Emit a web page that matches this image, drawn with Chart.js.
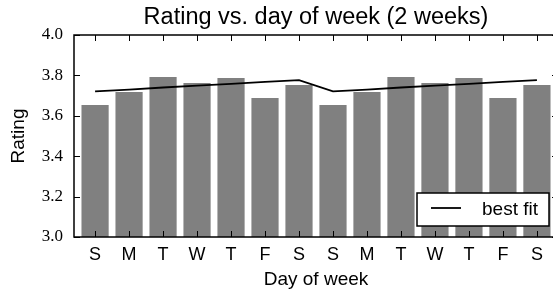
<!DOCTYPE html>
<html>
<head>
<meta charset="utf-8">
<script src="https://cdn.jsdelivr.net/npm/chart.js@4.4.1/dist/chart.umd.min.js"></script>
<style>
  html, body { margin: 0; padding: 0; background: #fff; overflow: hidden; }
  #wrap { width: 560px; height: 293px; }
</style>
</head>
<body>
<div id="wrap"><canvas id="myChart" width="560" height="293"></canvas></div>
<script>
// two weeks, one bar per day
const days = ['S', 'M', 'T', 'W', 'T', 'F', 'S', 'S', 'M', 'T', 'W', 'T', 'F', 'S'];
const dayIdx = [0, 1, 2, 3, 4, 5, 6, 7, 8, 9, 10, 11, 12, 13];
const ratings = [3.653, 3.718, 3.792, 3.762, 3.787, 3.688, 3.752,
                 3.653, 3.718, 3.792, 3.762, 3.787, 3.688, 3.752];
const bestFit = [3.721, 3.730, 3.740, 3.749, 3.758, 3.768, 3.777,
                 3.721, 3.730, 3.740, 3.749, 3.758, 3.768, 3.777];
const yTicks = [3.0, 3.2, 3.4, 3.6, 3.8, 4.0];

const sans = "'Liberation Sans', Arial, sans-serif";
const serif = "'Liberation Serif', 'Times New Roman', serif";

Chart.defaults.font.family = sans;
Chart.defaults.color = '#000';

// box around the plot + inward ticks on all four sides
const frame = {
  id: 'frame',
  afterDatasetsDraw(chart) {
    const ctx = chart.ctx;
    const a = chart.chartArea;
    const sx = chart.scales.x;
    const sy = chart.scales.y;
    const len = 6;
    ctx.save();
    ctx.strokeStyle = '#000';
    ctx.lineWidth = 1;
    ctx.beginPath();
    sx.ticks.forEach(t => {
      const px = Math.round(sx.getPixelForValue(t.value)) + 0.5;
      ctx.moveTo(px, a.bottom); ctx.lineTo(px, a.bottom - len);
      ctx.moveTo(px, a.top); ctx.lineTo(px, a.top + len);
    });
    sy.ticks.forEach(t => {
      const py = Math.round(sy.getPixelForValue(t.value)) + 0.5;
      ctx.moveTo(a.left, py); ctx.lineTo(a.left + len, py);
      ctx.moveTo(a.right, py); ctx.lineTo(a.right - len, py);
    });
    ctx.stroke();
    ctx.lineWidth = 1.5;
    ctx.strokeRect(a.left, a.top, a.right - a.left, a.bottom - a.top);
    ctx.restore();
  }
};

// legend box in the lower right corner, like matplotlib's
const cornerLegend = {
  id: 'cornerLegend',
  afterDraw(chart) {
    const ctx = chart.ctx;
    const a = chart.chartArea;
    const ds = chart.data.datasets.find(d => d.type === 'line');
    const right = a.right - 9, bottom = a.bottom - 11;
    const w = 132, h = 33;
    const left = right - w, top = bottom - h;
    ctx.save();
    ctx.fillStyle = '#fff';
    ctx.fillRect(left, top, w, h);
    ctx.strokeStyle = '#000';
    ctx.lineWidth = 1.5;
    ctx.strokeRect(left, top, w, h);
    ctx.lineWidth = ds.borderWidth;
    ctx.beginPath();
    ctx.moveTo(left + 14, top + 15);
    ctx.lineTo(left + 44, top + 15);
    ctx.stroke();
    ctx.fillStyle = '#000';
    ctx.font = "19px " + sans;
    ctx.textBaseline = 'alphabetic';
    ctx.fillText(ds.label, left + 65, top + 22);
    ctx.restore();
  }
};

const myChart = new Chart(document.getElementById('myChart').getContext('2d'), {
  type: 'bar',
  data: {
    datasets: [
      {
        type: 'line',
        label: 'best fit',
        data: dayIdx.map((d, i) => ({ x: d, y: bestFit[i] })),
        borderColor: '#000',
        borderWidth: 1.8,
        pointRadius: 0,
        tension: 0,
        fill: false,
        order: 0
      },
      {
        type: 'bar',
        label: 'rating',
        data: dayIdx.map((d, i) => ({ x: d, y: ratings[i] })),
        backgroundColor: '#808080',
        borderWidth: 0,
        barPercentage: 0.8,
        categoryPercentage: 1.0,
        order: 1
      }
    ]
  },
  options: {
    responsive: false,
    animation: false,
    devicePixelRatio: 1,
    layout: { padding: { left: 0, right: 2, top: 0, bottom: 0 } },
    plugins: {
      legend: { display: false },
      tooltip: { enabled: false },
      title: {
        display: true,
        fullSize: false,
        text: 'Rating vs. day of week (2 weeks)',
        color: '#000',
        font: { family: sans, size: 23.5, weight: 'normal' },
        padding: { top: 3, bottom: 3.8 }
      }
    },
    scales: {
      x: {
        type: 'linear',
        min: -0.62,
        max: 13.62,
        offset: false,
        grid: { display: false, drawTicks: false },
        border: { display: false },
        afterBuildTicks: axis => { axis.ticks = dayIdx.map(v => ({ value: v })); },
        afterFit: scale => { scale.height = 56; },
        ticks: {
          autoSkip: false,
          maxRotation: 0,
          padding: 7,
          color: '#000',
          font: { family: sans, size: 18 },
          callback: v => days[v]
        },
        title: {
          display: true,
          text: 'Day of week',
          color: '#000',
          font: { family: sans, size: 19 },
          padding: { top: 0, bottom: 1.6 }
        }
      },
      y: {
        type: 'linear',
        min: 3.0,
        max: 4.0,
        grid: { display: false, drawTicks: false },
        border: { display: false },
        afterBuildTicks: axis => { axis.ticks = yTicks.map(v => ({ value: v })); },
        afterFit: scale => { scale.width = 74; },
        ticks: {
          padding: 11,
          color: '#000',
          font: { family: serif, size: 17 },
          callback: v => v.toFixed(1)
        },
        title: {
          display: true,
          text: 'Rating',
          color: '#000',
          font: { family: sans, size: 19 },
          padding: { top: 7.6, bottom: 0 }
        }
      }
    }
  },
  plugins: [frame, cornerLegend]
});
</script>
</body>
</html>
